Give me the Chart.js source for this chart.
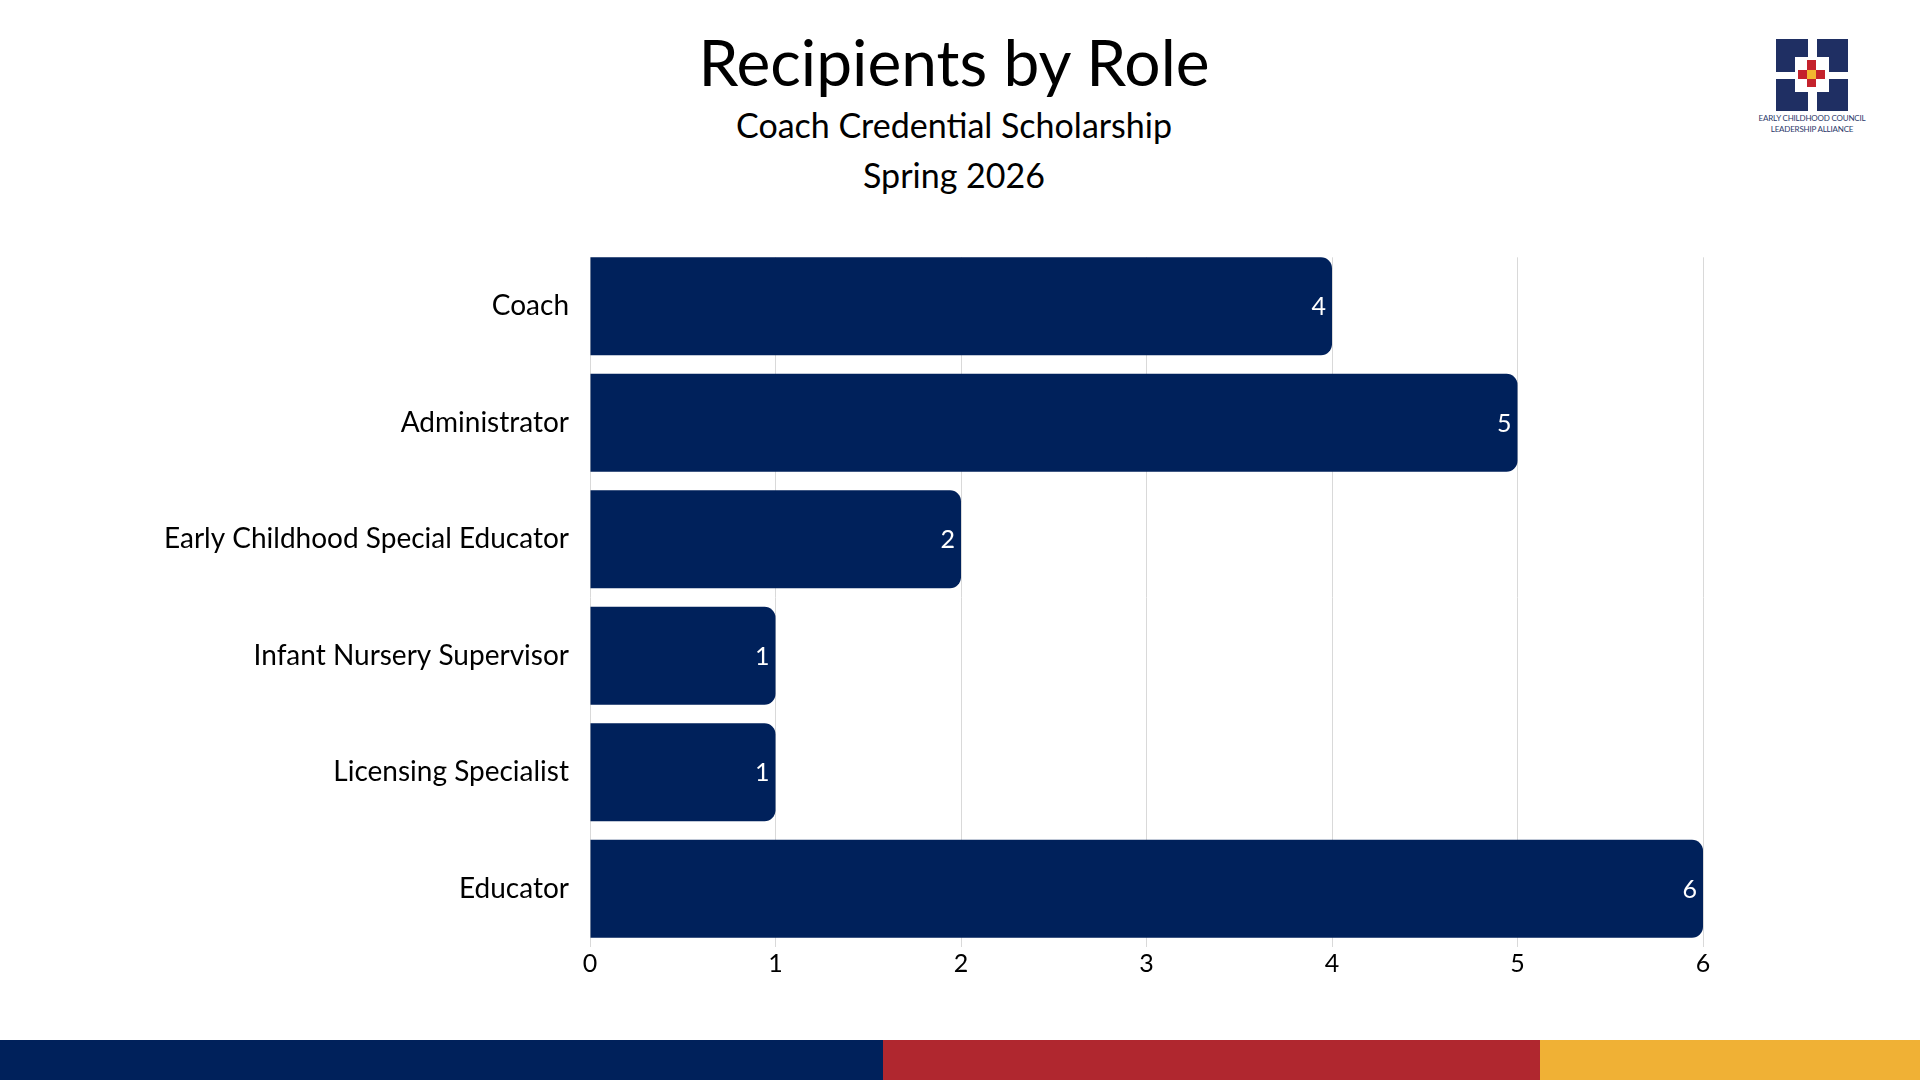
<!DOCTYPE html>
<html>
<head>
<meta charset="utf-8">
<script src="https://cdn.jsdelivr.net/npm/chart.js@4.4.1/dist/chart.umd.min.js"></script>
<style>
  body { margin: 0; width: 1920px; height: 1080px; background: #fff; overflow: hidden; font-family: Lato, "Noto Sans", sans-serif; position: relative; }
  .title { position: absolute; left: 0; width: 1908px; text-align: center; color: #000; }
  #t1 { top: 23px; font-size: 64px; }
  #t2 { top: 104px; font-size: 34px; }
  #t3 { top: 154px; font-size: 34px; }
  #chartBox { position: absolute; left: 0; top: 200px; width: 1920px; height: 800px; }
  #logo { position: absolute; left: 1776px; top: 39px; }
  .logoText { position: absolute; left: 1752px; width: 120px; text-align: center; font-size: 8px; color: #2b3a6b; letter-spacing: -0.2px; }
  .strip { position: absolute; top: 1040px; height: 40px; }
</style>
</head>
<body>
<div class="title" id="t1">Recipients by Role</div>
<div class="title" id="t2">Coach Credential Scholarship</div>
<div class="title" id="t3">Spring 2026</div>

<svg id="logo" width="72" height="72" viewBox="0 0 72 72">
  <rect x="0" y="0" width="32" height="33" fill="#1f2f63"/>
  <rect x="41" y="0" width="31" height="33" fill="#1f2f63"/>
  <rect x="0" y="40" width="32" height="32" fill="#1f2f63"/>
  <rect x="41" y="40" width="31" height="32" fill="#1f2f63"/>
  <rect x="19" y="18" width="34" height="35" fill="#fff"/>
  <rect x="22" y="31" width="27" height="9" fill="#c4222c"/>
  <rect x="31" y="21" width="9" height="27" fill="#c4222c"/>
  <rect x="31" y="31" width="9" height="9" fill="#f2b630"/>
</svg>
<div class="logoText" style="top:113px">EARLY CHILDHOOD COUNCIL</div>
<div class="logoText" style="top:124px">LEADERSHIP ALLIANCE</div>

<div id="chartBox"><canvas id="roleChart"></canvas></div>

<div class="strip" style="left:0;width:883px;background:#00215b"></div>
<div class="strip" style="left:883px;width:657px;background:#b0272f"></div>
<div class="strip" style="left:1540px;width:380px;background:#f0b135"></div>

<script>
// data
const roles = ['Coach', 'Administrator', 'Early Childhood Special Educator', 'Infant Nursery Supervisor', 'Licensing Specialist', 'Educator'];
const recipients = [4, 5, 2, 1, 1, 6];
const xTicks = [0, 1, 2, 3, 4, 5, 6];

const navy = '#00215b';
const fontFam = 'Lato, "Noto Sans", sans-serif';

// gridlines start at the top of the first bar, not above it
const trimGrid = {
    id: 'trimGrid',
    beforeDatasetsDraw(chart) {
        const first = chart.getDatasetMeta(0).data[0];
        const area = chart.chartArea;
        const top = first.y - first.height / 2;
        const ctx = chart.ctx;
        ctx.save();
        ctx.fillStyle = '#ffffff';
        ctx.fillRect(area.left, area.top - 1, area.right - area.left + 2, top - area.top + 1);
        ctx.restore();
    }
};

// value labels inside the bar ends
const valueLabels = {
    id: 'valueLabels',
    afterDatasetsDraw(chart) {
        const ctx = chart.ctx;
        const meta = chart.getDatasetMeta(0);
        ctx.save();
        ctx.fillStyle = '#ffffff';
        ctx.font = '25px ' + fontFam;
        ctx.textAlign = 'right';
        ctx.textBaseline = 'middle';
        meta.data.forEach(function(bar, i){
            ctx.fillText(recipients[i], bar.x - 6, bar.y + 1);
        });
        ctx.restore();
    }
};

const roleChart = new Chart(document.getElementById('roleChart'), {
    type: 'bar',
    data: {
        labels: roles,
        datasets: [{
            data: recipients,
            backgroundColor: navy,
            borderRadius: 11,
            borderSkipped: 'start',
            categoryPercentage: 1,
            barPercentage: 0.84
        }]
    },
    options: {
        indexAxis: 'y',
        responsive: true,
        maintainAspectRatio: false,
        animation: false,
        layout: { padding: { left: 0, right: 217, top: 48, bottom: 13 } },
        plugins: {
            legend: { display: false },
            tooltip: { enabled: false }
        },
        scales: {
            x: {
                min: 0,
                max: 6,
                afterBuildTicks: function(scale){ scale.ticks = xTicks.map(v => ({ value: v })); },
                afterFit: function(scale){ scale.height = 40; },
                grid: { color: '#d9d9d9', drawTicks: false, lineWidth: 1 },
                border: { display: false },
                ticks: { color: '#000', padding: 2, font: { size: 25, family: fontFam } }
            },
            y: {
                afterFit: function(scale){ scale.width = 590; },
                grid: { display: false, drawTicks: false },
                border: { display: false },
                ticks: { color: '#000', padding: 21, font: { size: 28, family: fontFam } }
            }
        }
    },
    plugins: [trimGrid, valueLabels]
});
</script>
</body>
</html>
